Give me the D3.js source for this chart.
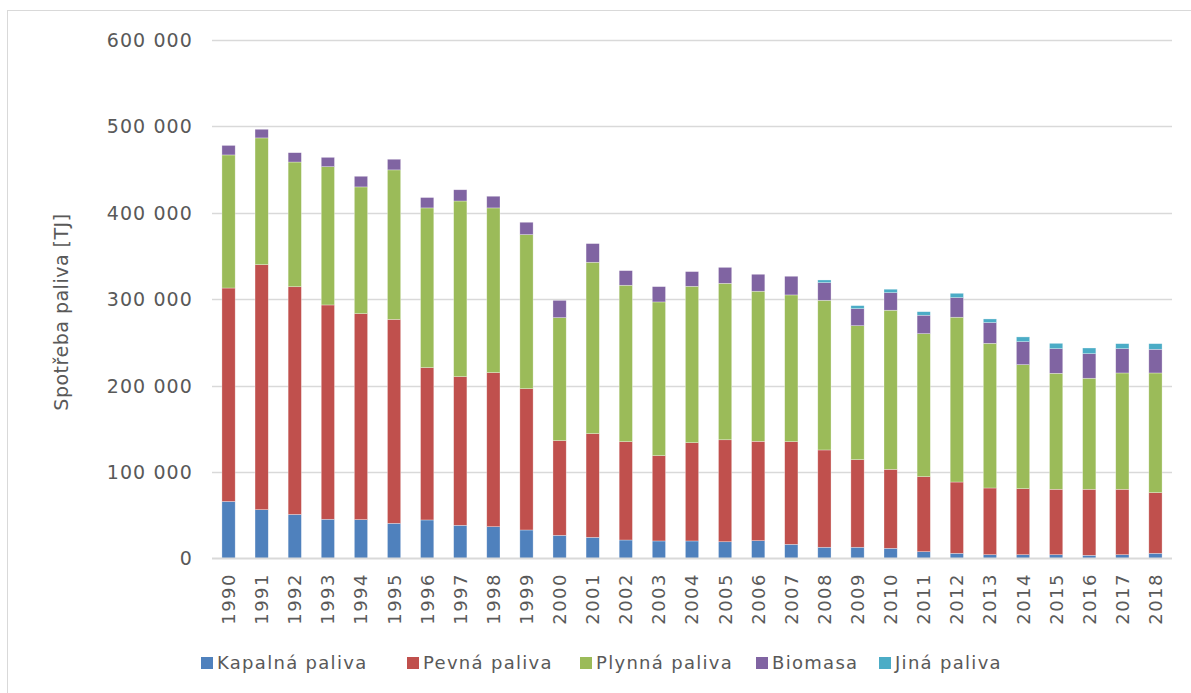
<!DOCTYPE html>
<html>
<head>
<meta charset="utf-8">
<script src="https://cdn.jsdelivr.net/npm/d3@7"></script>
<style>
  body { margin: 0; background: #fff; }
  svg text { font-family: "DejaVu Sans", sans-serif; fill: #595959; }
</style>
</head>
<body>
<svg id="chart" width="1191" height="693"></svg>
<script>
// data, TJ
var years = d3.range(1990, 2019).map(String);
var kapalna = [66, 56.5, 51, 45.4, 45, 40.7, 44.6, 38.4, 36.8, 33, 26.8, 24.5, 21.4, 20.3, 20.3, 19.4, 20.6, 16.4, 13, 13, 11.8, 7.9, 6, 4.4, 4.4, 4.4, 3.7, 4.4, 6];
var pevna = [247, 283.5, 263.5, 248, 238.3, 236, 176.3, 172, 178.3, 163.5, 109.6, 120, 113.8, 98.7, 113.7, 118, 115, 118.8, 112.6, 101.4, 91.4, 86.8, 82.5, 77.2, 76.4, 75.7, 76.4, 75.7, 70.2];
var plynna = [154, 146.7, 144.3, 160, 146.7, 173, 184.8, 203.3, 190.6, 178.3, 142.3, 198.3, 181, 177.9, 181, 181, 173.7, 169.8, 173.2, 155, 184.1, 165.5, 190.7, 167.4, 143.5, 134.2, 128.5, 134.6, 138.5];
var biomasa = [11, 10, 10.8, 10.8, 12.3, 12.3, 12, 13, 13.5, 14.3, 20, 21.6, 16.9, 17.7, 17, 18.5, 19.6, 21.6, 20.4, 19.7, 20.3, 21.3, 22.7, 24, 26.6, 28.5, 28.4, 28.1, 27.4];
var jina = [0, 0, 0, 0, 0, 0, 0, 0, 0, 0, 0, 0, 0, 0, 0, 0, 0, 0, 3.1, 3.5, 4, 4.1, 5, 4.2, 5.5, 6.2, 6.6, 5.8, 6.5];
var seriesNames = ['Kapalná paliva', 'Pevná paliva', 'Plynná paliva', 'Biomasa', 'Jiná paliva'];
var seriesValues = [kapalna, pevna, plynna, biomasa, jina];
var colors = ['#4F81BD', '#C0504D', '#9BBB59', '#8064A2', '#4BACC6'];
var yTicks = [0, 100000, 200000, 300000, 400000, 500000, 600000];

var svg = d3.select('#chart');

// outer chart frame
svg.append('rect')
    .attr('x', 7.5).attr('y', 10.5)
    .attr('width', 1200).attr('height', 700)
    .attr('fill', 'none')
    .attr('stroke', '#d9d9d9');

var margin = { left: 212, right: 1172, top: 40, bottom: 558.5 };

var x = d3.scaleBand()
    .domain(years)
    .range([margin.left, margin.right])
    .paddingInner(0.6)
    .paddingOuter(0.3);

var y = d3.scaleLinear()
    .domain([0, 600000])
    .range([margin.bottom, margin.top]);

// rows for the stack
var rows = years.map(function(yr, i) {
    var r = { year: yr };
    seriesNames.forEach(function(n, j) { r[n] = seriesValues[j][i] * 1000; });
    return r;
});
var stacked = d3.stack().keys(seriesNames)(rows);

// gridlines
svg.append('g')
    .selectAll('line')
    .data(yTicks.slice(1))
    .enter().append('line')
    .attr('x1', margin.left).attr('x2', margin.right)
    .attr('y1', function(d) { return Math.round(y(d)) + 0.5; })
    .attr('y2', function(d) { return Math.round(y(d)) + 0.5; })
    .attr('stroke', '#d9d9d9')
    .attr('stroke-width', 1.3);

// y axis labels
var fmt = function(d) { return d3.format(',')(d).replace(/,/g, ' '); };
svg.append('g')
    .selectAll('text')
    .data(yTicks)
    .enter().append('text')
    .attr('x', 193)
    .attr('y', function(d) { return y(d); })
    .attr('dy', '0.36em')
    .attr('text-anchor', 'end')
    .style('font-size', '19px')
    .style('letter-spacing', '1.1px')
    .text(fmt);

// bars
svg.append('g')
    .selectAll('g')
    .data(stacked)
    .enter().append('g')
    .attr('fill', function(d, i) { return colors[i]; })
    .selectAll('rect')
    .data(function(d) { return d; })
    .enter().append('rect')
    .attr('x', function(d) { return x(d.data.year); })
    .attr('width', x.bandwidth())
    .attr('y', function(d) { return y(d[1]); })
    .attr('height', function(d) { return y(d[0]) - y(d[1]); })
    .attr('stroke', '#fff')
    .attr('stroke-opacity', 0.5)
    .attr('stroke-width', 0.6);

// baseline
svg.append('line')
    .attr('x1', margin.left).attr('x2', margin.right)
    .attr('y1', margin.bottom).attr('y2', margin.bottom)
    .attr('stroke', '#d9d9d9')
    .attr('stroke-width', 2);

// x axis labels, rotated
svg.append('g')
    .selectAll('text')
    .data(years)
    .enter().append('text')
    .attr('transform', function(d) {
        return 'translate(' + (x(d) + x.bandwidth() / 2) + ',' + 573 + ') rotate(-90)';
    })
    .attr('text-anchor', 'end')
    .attr('dy', '0.36em')
    .style('font-size', '18px')
    .style('letter-spacing', '1.5px')
    .text(function(d) { return d; });

// y axis title
svg.append('text')
    .attr('transform', 'translate(61,312) rotate(-90)')
    .attr('text-anchor', 'middle')
    .attr('dy', '0.36em')
    .style('font-size', '19px')
    .style('letter-spacing', '0.5px')
    .text('Spotřeba paliva [TJ]');

// legend
var legendX = [201, 407, 580, 756, 879];
var legend = svg.append('g')
    .selectAll('g')
    .data(seriesNames)
    .enter().append('g')
    .attr('transform', function(d, i) { return 'translate(' + legendX[i] + ',663)'; });

legend.append('rect')
    .attr('x', 0).attr('y', -6)
    .attr('width', 12).attr('height', 12)
    .attr('fill', function(d, i) { return colors[i]; });

legend.append('text')
    .attr('x', 16)
    .attr('dy', '0.36em')
    .style('font-size', '18px')
    .style('letter-spacing', '1.3px')
    .text(function(d) { return d; });
</script>
</body>
</html>
